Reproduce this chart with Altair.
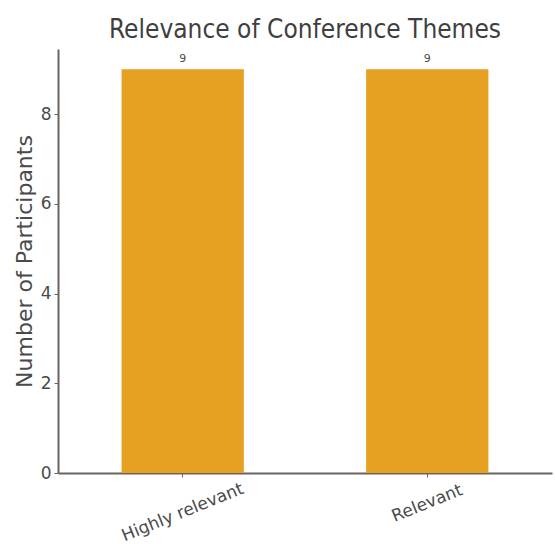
import altair as alt
import pandas as pd

# Survey responses: how relevant participants found the conference themes
categories = ["Highly relevant", "Relevant"]
participants = [9, 9]

df = pd.DataFrame({"Relevance": categories, "Participants": participants})

FONT = "DejaVu Sans"
TITLE_FONT = "DejaVu Sans Condensed"
AXIS_COLOR = "#6b6363"
TEXT_COLOR = "#4a4a4a"

base = alt.Chart(df).encode(
    x=alt.X(
        "Relevance:N",
        sort=categories,
        scale=alt.Scale(paddingInner=0.5, paddingOuter=0.26),
        axis=alt.Axis(
            title=None,
            labelAngle=-22,
            labelAlign="center",
            labelBaseline="middle",
            labelFontSize=17,
            labelColor=TEXT_COLOR,
            labelFont=FONT,
            # longer labels sit lower so their rotated boxes share a top edge
            labelPadding={
                "condition": {"test": "length(datum.label) > 10", "value": 35},
                "value": 26,
            },
            domainColor=AXIS_COLOR,
            domainWidth=2,
            tickColor=AXIS_COLOR,
            tickSize=4,
        ),
    ),
    y=alt.Y(
        "Participants:Q",
        scale=alt.Scale(domain=[0, 9.45], nice=False),
        axis=alt.Axis(
            title="Number of Participants",
            titleFontSize=22,
            titleFont=FONT,
            titleFontWeight="normal",
            titleColor=TEXT_COLOR,
            titlePadding=4,
            values=[0, 2, 4, 6, 8],
            labelFontSize=17,
            labelFont=FONT,
            labelColor=TEXT_COLOR,
            labelPadding=3,
            grid=False,
            domainColor=AXIS_COLOR,
            domainWidth=2,
            tickColor=AXIS_COLOR,
            tickSize=4,
        ),
    ),
)

bars = base.mark_bar(color="#E6A122")

labels = base.mark_text(
    dy=-5, baseline="bottom", fontSize=11, font=FONT, color=TEXT_COLOR
).encode(text="Participants:Q")

chart = (
    (bars + labels)
    .properties(
        width=494,
        height=424,
        autosize=alt.AutoSizeParams(type="none"),
        padding={"left": 58, "top": 49, "right": 3, "bottom": 71},
        title=alt.TitleParams(
            "Relevance of Conference Themes",
            fontSize=26,
            font=TITLE_FONT,
            fontWeight="normal",
            color="#3f3f3f",
            offset=6,
        ),
        background="white",
    )
    .configure_view(stroke=None)
)

chart.save("out.html", embed_options={"renderer": "svg", "actions": False})
